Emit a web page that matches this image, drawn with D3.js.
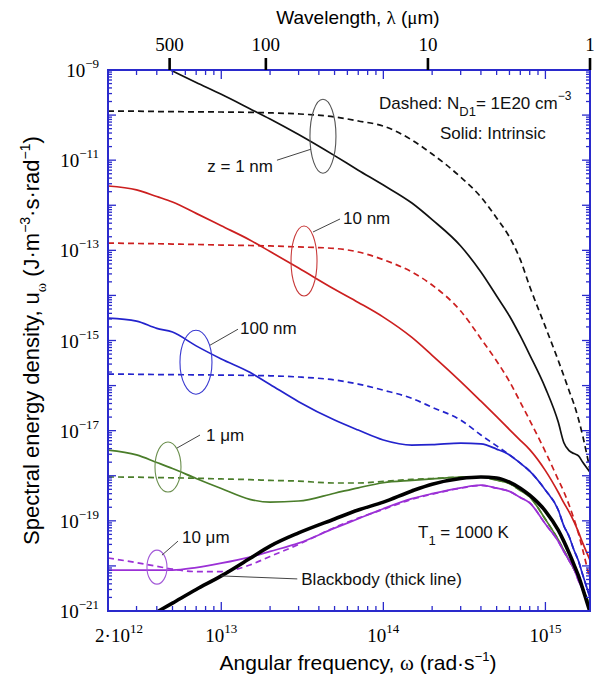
<!DOCTYPE html>
<html>
<head>
<meta charset="utf-8">
<script src="https://cdn.jsdelivr.net/npm/d3@7"></script>
<style>
  body { margin: 0; background: #fff; }
  svg text { font-family: 'Liberation Sans', Arial, sans-serif; }
  svg text.serif, svg tspan.serif { font-family: 'Liberation Serif', 'Times New Roman', 'DejaVu Serif', serif; }
</style>
</head>
<body>
<svg width="594" height="680"></svg>
<script>
// angular frequency grid (rad/s), shared by every curve
var omega = [2e12, 3e12, 4e12, 5e12, 7e12, 1e13, 1.5e13, 2e13, 3e13, 5e13, 7e13, 1e14, 1.5e14, 2e14,
             3e14, 4e14, 5e14, 6e14, 7e14, 8e14, 1e15, 1.2e15, 1.3e15, 1.4e15, 1.5e15, 1.6e15, 1.7e15, 1.884e15];

// spectral energy density, solid = intrinsic, dashed = doped (N_D1 = 1E20 cm^-3)
var solid1nm = [4.5e-9, 2.3e-9, 1.4e-9, 9.5e-10, 5.3e-10, 2.9e-10, 1.39e-10, 8.2e-11, 3.7e-11, 1.26e-11, 6.0e-12, 2.8e-12, 1.12e-12, 4.8e-13,
                1.25e-13, 3.3e-14, 9.7e-15, 3.5e-15, 1.26e-15, 4.8e-16, 8.8e-17, 1.55e-17, 5.4e-18, 3.6e-18, 3.1e-18, 2.75e-18, 2.0e-18, 1.2e-18];
var dashed1nm = [1.23e-10, 1.22e-10, 1.2e-10, 1.19e-10, 1.18e-10, 1.17e-10, 1.15e-10, 1.12e-10, 1.06e-10, 9.1e-11, 7.4e-11, 5.7e-11, 2.8e-11, 1.37e-11,
                 4.2e-12, 1.52e-12, 5.2e-13, 1.97e-13, 6.2e-14, 1.58e-14, 2.0e-15, 3.6e-16, 1.63e-16, 7.7e-17, 3.9e-17, 1.8e-17, 7.6e-18, 1.34e-18];
var solid10nm = [2.67e-12, 2.2e-12, 1.56e-12, 1.18e-12, 6.6e-13, 3.5e-13, 1.7e-13, 9.4e-14, 4.05e-14, 1.37e-14, 7.0e-15, 3.3e-15, 1.17e-15, 4.7e-16,
                 1.23e-16, 4.5e-17, 2.04e-17, 1.06e-17, 6.1e-18, 3.8e-18, 1.3e-18, 4.3e-19, 2.5e-19, 1.58e-19, 9.6e-20, 5.6e-20, 3.2e-20, 1.35e-20];
var dashed10nm = [1.45e-13, 1.42e-13, 1.4e-13, 1.38e-13, 1.35e-13, 1.31e-13, 1.28e-13, 1.25e-13, 1.19e-13, 1.1e-13, 9.2e-14, 6.2e-14, 3.3e-14, 1.7e-14,
                  4.5e-15, 1.1e-15, 3.5e-16, 1.23e-16, 4.3e-17, 1.7e-17, 3.4e-18, 8.2e-19, 4.4e-19, 2.24e-19, 1.1e-19, 5.2e-20, 2.25e-20, 4.9e-21];
var solid100nm = [3.15e-15, 2.7e-15, 1.86e-15, 1.54e-15, 7.6e-16, 3.9e-16, 1.97e-16, 1.06e-16, 4.4e-17, 1.72e-17, 1.03e-17, 6.2e-18, 4.8e-18, 4.9e-18,
                  5.3e-18, 5.1e-18, 3.9e-18, 2.9e-18, 1.9e-18, 1.27e-18, 4.8e-19, 1.74e-19, 7.7e-20, 4.5e-20, 2.25e-20, 1.28e-20, 6.3e-21, 2.0e-21];
var dashed100nm = [1.8e-16, 1.78e-16, 1.76e-16, 1.75e-16, 1.73e-16, 1.71e-16, 1.68e-16, 1.65e-16, 1.55e-16, 1.33e-16, 1.08e-16, 7.9e-17, 5.2e-17, 3.3e-17,
                   1.72e-17, 8.0e-18, 4.6e-18, 2.9e-18, 1.9e-18, 1.27e-18, 4.8e-19, 1.74e-19, 7.7e-20, 4.5e-20, 2.25e-20, 1.28e-20, 6.3e-21, 2.0e-21];
var solid1um = [3.7e-18, 2.9e-18, 1.97e-18, 1.45e-18, 8.7e-19, 5.2e-19, 3.0e-19, 2.6e-19, 2.75e-19, 4.1e-19, 5.4e-19, 7.0e-19, 7.9e-19, 8.5e-19,
                9.3e-19, 9.4e-19, 8.0e-19, 6.7e-19, 4.7e-19, 3.4e-19, 1.08e-19, 3.8e-20, 2.2e-20, 1.35e-20, 8.5e-21, 5.4e-21, 3.1e-21, 1.36e-21];
var dashed1um = [9.4e-19, 9.3e-19, 9.1e-19, 9.0e-19, 8.8e-19, 8.5e-19, 8.2e-19, 7.9e-19, 7.6e-19, 6.9e-19, 6.9e-19, 7.5e-19, 8.3e-19, 8.7e-19,
                 9.3e-19, 9.4e-19, 8.0e-19, 6.7e-19, 4.7e-19, 3.4e-19, 1.08e-19, 3.8e-20, 2.2e-20, 1.35e-20, 8.5e-21, 5.4e-21, 3.1e-21, 1.36e-21];
var solid10um = [8.1e-21, 8.1e-21, 8.1e-21, 8.1e-21, 9.2e-21, 1.15e-20, 1.57e-20, 2.1e-20, 3.2e-20, 6.9e-20, 1.11e-19, 1.86e-19, 3.1e-19, 4.0e-19,
                 5.4e-19, 6.2e-19, 5.3e-19, 4.5e-19, 3.3e-19, 2.5e-19, 8.5e-20, 3.5e-20, 2.07e-20, 1.32e-20, 8.6e-21, 4.7e-21, 2.9e-21, 1.0e-21];
var dashed10um = [1.5e-20, 1.18e-20, 9.8e-21, 8.5e-21, 7.5e-21, 7.5e-21, 1.05e-20, 1.62e-20, 3.0e-20, 7.1e-20, 1.15e-19, 1.8e-19, 3.0e-19, 3.9e-19,
                  5.3e-19, 6.1e-19, 5.3e-19, 4.5e-19, 3.3e-19, 2.5e-19, 8.5e-20, 3.5e-20, 2.07e-20, 1.32e-20, 8.6e-21, 4.7e-21, 2.9e-21, 1.0e-21];
var blackbody = [2.3e-22, 5.3e-22, 9.5e-22, 1.5e-21, 3.0e-21, 6.0e-21, 1.46e-20, 2.75e-20, 5.4e-20, 1.1e-19, 1.74e-19, 2.6e-19, 4.6e-19, 6.5e-19,
                 8.7e-19, 9.4e-19, 8.9e-19, 7.2e-19, 5.3e-19, 3.7e-19, 1.65e-19, 6.2e-20, 3.5e-20, 1.93e-20, 1.07e-20, 6.0e-21, 3.1e-21, 9.5e-22];

// gap labels and where their rings sit (omega, u)
var gapLabels = ['z = 1 nm', '10 nm', '100 nm', '1 \u03bcm', '10 \u03bcm'];
var ringOmega = [4.24e13, 3.24e13, 6.98e12, 4.69e12, 4.01e12];
var ringU = [3.4e-11, 5.8e-14, 3.3e-16, 1.56e-18, 9.4e-21];

// top axis: wavelength labels and the omega where the original puts their ticks
var lambdaLabels = ['500', '100', '10', '1'];
var lambdaTickOmega = [4.8e12, 1.884e13, 1.884e14, 1.884e15];

// bottom / left tick labels
var xLabelVals = [2e12, 1e13, 1e14, 1e15];
var xLabelText = [['2\u00b710', '12'], ['10', '13'], ['10', '14'], ['10', '15']];
var yLabelExp = [-9, -11, -13, -15, -17, -19, -21];

var margin = {top: 70, right: 4, bottom: 69, left: 108};
var width = 594 - margin.left - margin.right;   // 482
var height = 680 - margin.top - margin.bottom;  // 541

var frameColor = '#2a2acc';
var colors = {black: '#111111', red: '#cc1f1f', blue: '#2323cc', green: '#4a7d2a', purple: '#9b30d6'};

var x = d3.scaleLog().domain([2e12, 1.884e15]).range([0, width]);
var y = d3.scaleLog().domain([1e-21, 1e-9]).range([height, 0]);

var svg = d3.select('svg');
svg.append('defs').append('clipPath').attr('id', 'plotclip')
    .append('rect').attr('width', width).attr('height', height);

var main = svg.append('g')
    .attr('transform', 'translate(' + margin.left + ',' + margin.top + ')');

// curves
var line = d3.line()
    .x(function (d, i) { return x(omega[i]); })
    .y(function (d) { return y(d); })
    .curve(d3.curveMonotoneX);

var series = [
  {v: dashed1nm, c: colors.black, dash: true}, {v: solid1nm, c: colors.black},
  {v: dashed10nm, c: colors.red, dash: true}, {v: solid10nm, c: colors.red},
  {v: dashed100nm, c: colors.blue, dash: true}, {v: solid100nm, c: colors.blue},
  {v: dashed1um, c: colors.green, dash: true}, {v: solid1um, c: colors.green},
  {v: dashed10um, c: colors.purple, dash: true}, {v: solid10um, c: colors.purple},
  {v: blackbody, c: '#000', w: 3.6}
];

var curves = main.append('g').attr('clip-path', 'url(#plotclip)');
curves.selectAll('path.curve')
    .data(series)
    .enter().append('path')
    .attr('class', 'curve')
    .attr('d', function (d) { return line(d.v); })
    .attr('fill', 'none')
    .attr('stroke', function (d) { return d.c; })
    .attr('stroke-width', function (d) { return d.w || 1.7; })
    .attr('stroke-dasharray', function (d) { return d.dash ? '6,4' : null; });

// frame
main.append('rect')
    .attr('width', width).attr('height', height)
    .attr('fill', 'none').attr('stroke', frameColor).attr('stroke-width', 2);

// ticks (all point inward, mirrored on opposite sides)
var xMajor = [1e13, 1e14, 1e15], xMinor = [];
[1e12, 1e13, 1e14].forEach(function (d) {
  for (var k = 2; k < 10; k++) { var v = k * d; if (v > 2e12 && v < 1.884e15) xMinor.push(v); }
});
var yMajor = [], yMinor = [];
d3.range(-21, -8).forEach(function (e) {
  yMajor.push(Math.pow(10, e));
  if (e < -9) for (var k = 2; k < 10; k++) yMinor.push(k * Math.pow(10, e));
});

var ticks = main.append('g').attr('stroke', frameColor).attr('stroke-width', 1.3);
function xTicks(vals, len) {
  vals.forEach(function (v) {
    ticks.append('line').attr('x1', x(v)).attr('x2', x(v)).attr('y1', height).attr('y2', height - len);
    ticks.append('line').attr('x1', x(v)).attr('x2', x(v)).attr('y1', 0).attr('y2', len);
  });
}
function yTicks(vals, len) {
  vals.forEach(function (v) {
    ticks.append('line').attr('y1', y(v)).attr('y2', y(v)).attr('x1', 0).attr('x2', len);
    ticks.append('line').attr('y1', y(v)).attr('y2', y(v)).attr('x1', width).attr('x2', width - len);
  });
}
xTicks(xMajor, 9); xTicks(xMinor, 5);
yTicks(yMajor, 8); yTicks(yMinor, 4);

// top wavelength ticks (outside, black)
lambdaTickOmega.forEach(function (v, i) {
  main.append('line')
      .attr('x1', x(v)).attr('x2', x(v)).attr('y1', 0).attr('y2', -12)
      .attr('stroke', '#000').attr('stroke-width', 2.6);
  main.append('text').attr('class', 'serif').attr('font-size', 19)
      .attr('x', x(v)).attr('y', -19).attr('text-anchor', 'middle')
      .text(lambdaLabels[i]);
});

// bottom tick labels
xLabelVals.forEach(function (v, i) {
  var t = main.append('text').attr('class', 'serif').attr('font-size', 19)
      .attr('x', x(v) + (i === 0 ? 11 : 0)).attr('y', height + 31)
      .attr('text-anchor', 'middle');
  t.append('tspan').text(xLabelText[i][0]);
  t.append('tspan').attr('dy', -9).attr('font-size', 13).text(xLabelText[i][1]);
});

// left tick labels
yLabelExp.forEach(function (e) {
  var t = main.append('text').attr('class', 'serif').attr('font-size', 19)
      .attr('x', -9).attr('y', y(Math.pow(10, e)) + 7)
      .attr('text-anchor', 'end');
  t.append('tspan').text('10');
  t.append('tspan').attr('dy', -9).attr('font-size', 13).text('\u2212' + Math.abs(e));
});

// axis titles
var tt = svg.append('text').attr('x', margin.left + width / 2 + 9).attr('y', 24)
    .attr('text-anchor', 'middle').attr('font-size', 19);
tt.append('tspan').text('Wavelength, ');
tt.append('tspan').attr('class', 'serif').text('\u03bb');
tt.append('tspan').text(' (');
tt.append('tspan').attr('class', 'serif').text('\u03bc');
tt.append('tspan').text('m)');

var bt = svg.append('text').attr('x', margin.left + width / 2 + 9).attr('y', 670)
    .attr('text-anchor', 'middle').attr('font-size', 21);
bt.append('tspan').text('Angular frequency, ');
bt.append('tspan').attr('class', 'serif').text('\u03c9');
bt.append('tspan').text(' (rad\u00b7s');
bt.append('tspan').attr('dy', -9).attr('font-size', 13).text('\u22121');
bt.append('tspan').attr('dy', 9).text(')');

var lt = svg.append('text')
    .attr('transform', 'translate(39,' + (margin.top + height / 2) + ') rotate(-90)')
    .attr('text-anchor', 'middle').attr('font-size', 22);
lt.append('tspan').text('Spectral energy density, u');
lt.append('tspan').attr('dy', 7).attr('font-size', 14).attr('class', 'serif').text('\u03c9');
lt.append('tspan').attr('dy', -7).text('  (J\u00b7m');
lt.append('tspan').attr('dy', -9).attr('font-size', 14).text('\u22123');
lt.append('tspan').attr('dy', 9).text('\u00b7s\u00b7rad');
lt.append('tspan').attr('dy', -9).attr('font-size', 14).text('\u22121');
lt.append('tspan').attr('dy', 9).text(')');

// rings around each pair of curves, with leader and label
var ringStyle = [
  {c: '#555', rx: 13, ry: 37, from: [-12, 13], to: [-46, 24], txt: [-50, 36], anchor: 'end'},
  {c: '#c83a3a', rx: 13, ry: 35, from: [9, -29], to: [36, -42], txt: [39, -37], anchor: 'start'},
  {c: '#3a3ad0', rx: 16, ry: 32, from: [14, -17], to: [42, -33], txt: [44, -28], anchor: 'start'},
  {c: '#6b8f4e', rx: 13, ry: 25, from: [9, -19], to: [32, -32], txt: [38, -26], anchor: 'start'},
  {c: '#a35ad8', rx: 10, ry: 17, from: [5, -12], to: [21, -26], txt: [25, -24], anchor: 'start'}
];
var notes = main.append('g').attr('font-size', 17).attr('fill', '#111');
gapLabels.forEach(function (lab, i) {
  var cx = x(ringOmega[i]), cy = y(ringU[i]), s = ringStyle[i];
  notes.append('ellipse').attr('cx', cx).attr('cy', cy).attr('rx', s.rx).attr('ry', s.ry)
      .attr('fill', 'none').attr('stroke', s.c).attr('stroke-width', 1.1);
  notes.append('line')
      .attr('x1', cx + s.from[0]).attr('y1', cy + s.from[1])
      .attr('x2', cx + s.to[0]).attr('y2', cy + s.to[1])
      .attr('stroke', '#444').attr('stroke-width', 1);
  notes.append('text').attr('x', cx + s.txt[0]).attr('y', cy + s.txt[1])
      .attr('text-anchor', s.anchor)
      .text(lab);
});

// blackbody pointer
var bx = x(omega[5]), by = y(blackbody[5]);
notes.append('line').attr('x1', bx).attr('y1', by).attr('x2', bx + 76).attr('y2', by + 3)
    .attr('stroke', '#444').attr('stroke-width', 1);
notes.append('text').attr('x', bx + 80).attr('y', by + 9)
    .text('Blackbody (thick line)');

// legend texts
var l1 = notes.append('text').attr('x', 271).attr('y', 39);
l1.append('tspan').text('Dashed: N');
l1.append('tspan').attr('dy', 7).attr('font-size', 13).text('D1');
l1.append('tspan').attr('dy', -7).text('= 1E20 cm');
l1.append('tspan').attr('dy', -9).attr('font-size', 12).text('\u22123');
notes.append('text').attr('x', 332).attr('y', 69)
    .text('Solid: Intrinsic');

var t1 = notes.append('text').attr('x', 310).attr('y', 468);
t1.append('tspan').text('T');
t1.append('tspan').attr('dy', 7).attr('font-size', 13).text('1');
t1.append('tspan').attr('dy', -7).text(' = 1000 K');
</script>
</body>
</html>
